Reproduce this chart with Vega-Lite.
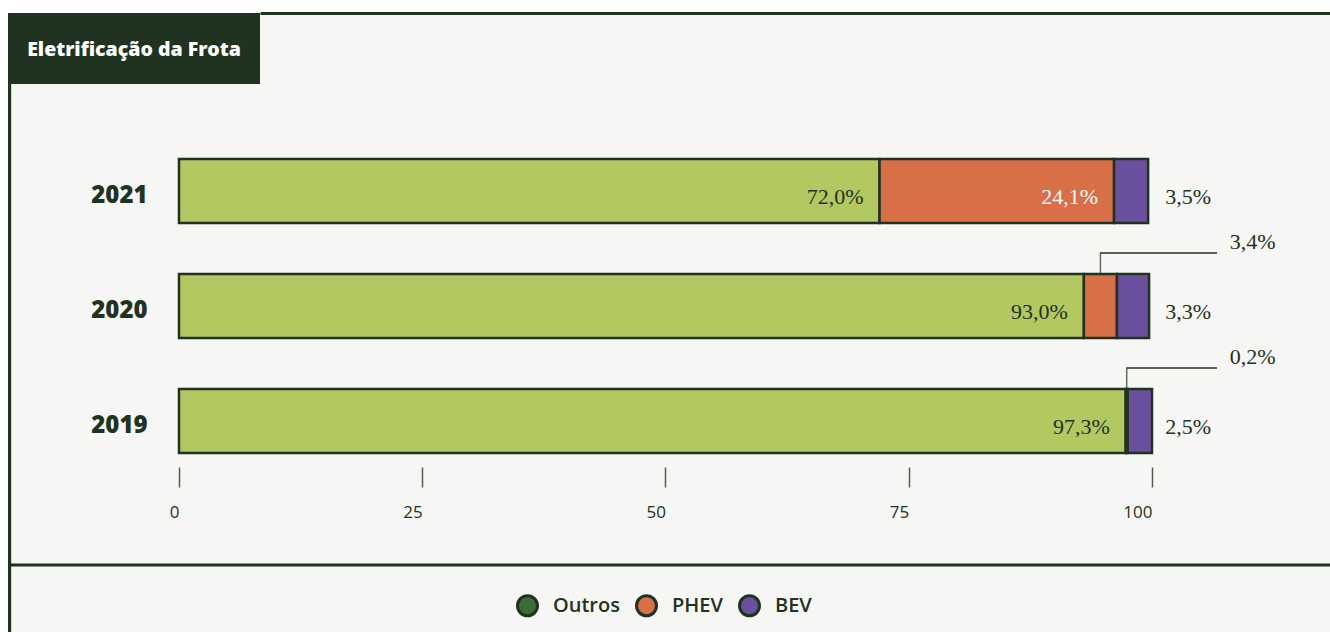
{
  "$schema": "https://vega.github.io/schema/vega-lite/v6.json",
  "background": "white",
  "padding": {"left": 8, "top": 13, "right": 0, "bottom": 0},
  "spacing": 0,
  "config": {"view": {"stroke": null}, "concat": {"spacing": 0}},
  "datasets": {
    "frota": [
      {"year": "2021", "type": "Outros", "value": 72.0},
      {"year": "2021", "type": "PHEV", "value": 24.1},
      {"year": "2021", "type": "BEV", "value": 3.5},
      {"year": "2020", "type": "Outros", "value": 93.0},
      {"year": "2020", "type": "PHEV", "value": 3.4},
      {"year": "2020", "type": "BEV", "value": 3.3},
      {"year": "2019", "type": "Outros", "value": 97.3},
      {"year": "2019", "type": "PHEV", "value": 0.2},
      {"year": "2019", "type": "BEV", "value": 2.5}
    ],
    "header": [{"title": "Eletrificação da Frota"}]
  },
  "vconcat": [
    {
      "spacing": 0,
      "bounds": "flush",
      "hconcat": [
        {
          "width": 252,
          "height": 71,
          "view": {"fill": "#1f3320", "stroke": null},
          "data": {"name": "header"},
          "mark": {"type": "text", "color": "#ffffff", "font": "Open Sans", "fontSize": 19.5, "fontWeight": 800, "align": "center", "baseline": "middle", "dy": 1},
          "encoding": {"text": {"field": "title"}}
        },
        {
          "width": 1080,
          "height": 71,
          "view": {"fill": "#f6f6f4", "stroke": null},
          "data": {"name": "header"},
          "mark": {"type": "point", "opacity": 0},
          "encoding": {
            "x": {"datum": 0, "type": "quantitative", "scale": {"domain": [0, 1]},
              "axis": {"orient": "top", "domain": true, "domainColor": "#1f3320", "domainWidth": 3, "ticks": false, "labels": false, "grid": false, "title": null}}
          }
        }
      ]
    },
    {
      "width": 1330,
      "height": 556,
      "view": {"fill": "#f6f6f4", "stroke": null},
      "data": {"name": "frota"},
      "transform": [
        {"calculate": "indexof(['Outros','PHEV','BEV'], datum.type)", "as": "ord"},
        {"stack": "value", "groupby": ["year"], "sort": [{"field": "ord", "order": "ascending"}], "as": ["start", "end"]},
        {"calculate": "(datum.start + datum.end) / 2", "as": "mid"},
        {"calculate": "replace(format(datum.value, '.1f'), '.', ',') + '%'", "as": "label"}
      ],
      "resolve": {"axis": {"x": "independent"}},
      "layer": [
        {
          "mark": {"type": "rect", "color": "#1f3320"},
          "encoding": {
            "x": {"datum": -17.574, "type": "quantitative", "axis": null},
            "x2": {"datum": -17.264}
          }
        },
        {
          "mark": {"type": "bar", "stroke": "#1f3320", "strokeWidth": 2.5},
          "encoding": {
            "x": {"field": "start", "type": "quantitative",
              "scale": {"domain": [-17.574, 119.116], "nice": false, "zero": false},
              "axis": {"orient": "bottom", "offset": -173, "values": [0, 25, 50, 75, 100], "domain": false, "grid": false,
                "tickSize": 20, "tickColor": "#4f604c", "tickWidth": 1.5, "labelAlign": "right", "labelBaseline": "top",
                "labelPadding": 17, "labelFlush": false, "labelFont": "Open Sans", "labelFontSize": 17, "labelFontWeight": "normal",
                "labelColor": "#1f3320", "title": null}},
            "x2": {"field": "end"},
            "y": {"field": "year", "type": "nominal",
              "scale": {"type": "band", "domain": ["2021", "2020", "2019"], "range": [75, 369], "paddingInner": 0.44348, "paddingOuter": 0},
              "axis": null},
            "fill": {"field": "type", "type": "nominal", "sort": ["Outros", "PHEV", "BEV"],
              "scale": {"range": ["#b3c860", "#d96f46", "#6a509e"]},
              "legend": null}
          }
        },
        {
          "transform": [{"calculate": "datum.type", "as": "serie"}],
          "mark": {"type": "point", "filled": true, "opacity": 0},
          "encoding": {
            "x": {"field": "start", "type": "quantitative",
              "axis": {"orient": "bottom", "offset": -75.5, "domain": true, "domainColor": "#1f3320", "domainWidth": 3,
                "ticks": false, "labels": false, "grid": false, "title": null}},
            "y": {"field": "year", "type": "nominal", "axis": null},
            "color": {"field": "serie", "type": "nominal",
              "scale": {"domain": ["Outros", "PHEV", "BEV"], "range": ["#3b6c34", "#d96f46", "#6a509e"]},
              "legend": {"orient": "none", "legendX": 508, "legendY": 581, "direction": "horizontal", "title": null,
                "symbolType": "circle", "symbolSize": 400, "symbolStrokeColor": "#1f3320", "symbolStrokeWidth": 3,
                "symbolOpacity": 1, "symbolFillOpacity": 1, "labelFont": "Open Sans", "labelFontSize": 20, "labelFontWeight": 600,
                "labelColor": "#1f3320", "labelOffset": 14, "columnPadding": 10, "padding": 0}}
          }
        },
        {
          "transform": [{"filter": "datum.type === 'Outros'"}],
          "mark": {"type": "text", "align": "right", "baseline": "middle", "dy": 5, "font": "Open Sans", "fontSize": 24, "fontWeight": 800, "color": "#1f3320"},
          "encoding": {
            "x": {"datum": -3.236, "type": "quantitative", "axis": null},
            "y": {"field": "year", "type": "nominal", "axis": null},
            "text": {"field": "year"}
          }
        },
        {
          "transform": [{"filter": "datum.type === 'Outros' || (datum.type === 'PHEV' && datum.value > 10)"}],
          "mark": {"type": "text", "align": "right", "baseline": "middle", "dx": -16, "dy": 6, "font": "Liberation Serif", "fontSize": 22},
          "encoding": {
            "x": {"field": "end", "type": "quantitative", "axis": null},
            "y": {"field": "year", "type": "nominal", "axis": null},
            "text": {"field": "label"},
            "color": {"condition": {"test": "datum.type === 'PHEV'", "value": "#ffffff"}, "value": "#1f3320"}
          }
        },
        {
          "transform": [{"filter": "datum.type === 'BEV'"}],
          "mark": {"type": "text", "align": "left", "baseline": "middle", "dy": 6, "font": "Liberation Serif", "fontSize": 22, "color": "#1f3320"},
          "encoding": {
            "x": {"datum": 101.35, "type": "quantitative", "axis": null},
            "y": {"field": "year", "type": "nominal", "axis": null},
            "text": {"field": "label"}
          }
        },
        {
          "transform": [{"filter": "datum.type === 'PHEV' && datum.value < 10"}],
          "mark": {"type": "text", "align": "left", "baseline": "middle", "dy": -64, "font": "Liberation Serif", "fontSize": 22, "color": "#1f3320"},
          "encoding": {
            "x": {"datum": 108.0, "type": "quantitative", "axis": null},
            "y": {"field": "year", "type": "nominal", "axis": null},
            "text": {"field": "label"}
          }
        },
        {
          "transform": [{"filter": "datum.type === 'PHEV' && datum.value < 10"}],
          "mark": {"type": "tick", "orient": "vertical", "size": 21, "thickness": 1.5, "color": "#1f3320", "yOffset": -43},
          "encoding": {
            "x": {"field": "mid", "type": "quantitative", "axis": null},
            "y": {"field": "year", "type": "nominal", "axis": null}
          }
        },
        {
          "transform": [{"filter": "datum.type === 'PHEV' && datum.value < 10"}],
          "mark": {"type": "rule", "color": "#1f3320", "strokeWidth": 1.5, "yOffset": -53, "y2Offset": -53},
          "encoding": {
            "x": {"field": "mid", "type": "quantitative", "axis": null},
            "x2": {"datum": 106.68},
            "y": {"field": "year", "type": "nominal", "axis": null}
          }
        }
      ]
    }
  ]
}
